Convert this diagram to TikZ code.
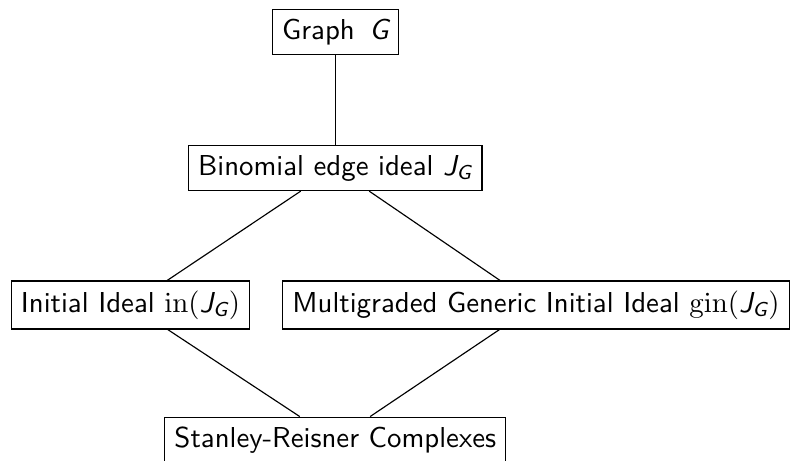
\documentclass[tikz,border=0pt]{standalone}
\usepackage{amsmath}
\renewcommand{\familydefault}{\sfdefault}
\newcommand{\myJG}{\text{\itshape J}_{\text{\itshape G}}}
\begin{document}
\begin{tikzpicture}[x=0.347pt,y=-0.347pt,
  box/.style={draw, black, line width=0.4pt, inner sep=0.3333em, font=\sffamily},
  link/.style={draw, black, line width=0.4pt}]
\useasboundingbox (0,0) rectangle (792,461);
\node[box] (graph) at (335.3,32) {Graph \,$\text{\itshape G}$};
\node[box] (bin) at (335.3,168) {Binomial edge ideal $\myJG$};
\node[box] (init) at (130.5,305) {Initial Ideal $\mathrm{in}(\myJG)$};
\node[box] (gin) at (536,305) {Multigraded Generic Initial Ideal $\mathrm{gin}(\myJG)$};
\node[box] (sr) at (335.3,440) {Stanley-Reisner Complexes};
\draw[link] (graph) -- (bin);
\draw[link] (bin) -- (init);
\draw[link] (bin) -- (gin);
\draw[link] (init) -- (sr);
\draw[link] (gin) -- (sr);
\end{tikzpicture}
\end{document}
